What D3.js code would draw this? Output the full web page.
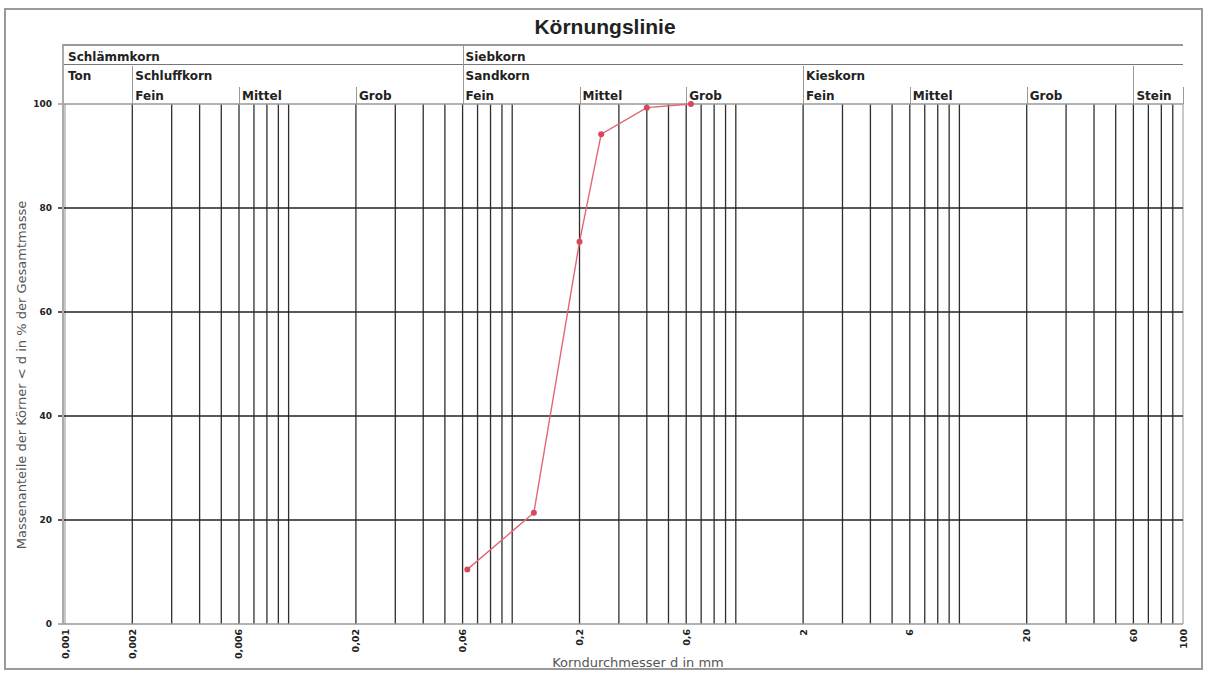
<!DOCTYPE html>
<html>
  <head>
    <meta charset="utf-8">
    <title>Körnungslinie</title>
    <script src="https://d3js.org/d3.v7.min.js"></script>
    <style>
      body { margin: 0; background: #fff; }
      text { font-family: "DejaVu Sans", sans-serif; fill: #222; }
      .grid { stroke: #2e2e2e; stroke-width: 1.3; }
      .hgrid { stroke: #222; stroke-width: 1.3; }
      .edge { stroke: #aaa; stroke-width: 1.5; shape-rendering: crispEdges; }
      .sep { stroke: #999; stroke-width: 1.5; shape-rendering: crispEdges; }
      .head { font-size: 12px; font-weight: bold; }
      .curve { fill: none; stroke: #e26673; stroke-width: 1.4; }
      .dot { fill: #d9485a; }
    </style>
  </head>
  <body>
    <div id="chart"></div>
    <script>

      var width = 1207,
        height = 673;

      // grain diameters (mm) and percent passing
      var diameters = [0.063, 0.125, 0.2, 0.25, 0.4, 0.63];
      var passing = [10.5, 21.4, 73.5, 94.2, 99.3, 100];

      var xTickValues = [0.001, 0.002, 0.006, 0.02, 0.06, 0.2, 0.6, 2, 6, 20, 60, 100];
      var xTickLabels = ["0,001", "0,002", "0,006", "0,02", "0,06", "0,2", "0,6", "2", "6", "20", "60", "100"];
      var yTickValues = [0, 20, 40, 60, 80, 100];

      // header rows: label + starting diameter
      var row1Labels = ["Schlämmkorn", "Siebkorn"];
      var row1Starts = [0.001, 0.06];
      var row2Labels = ["Ton", "Schluffkorn", "Sandkorn", "Kieskorn", ""];
      var row2Starts = [0.001, 0.002, 0.06, 2, 60];
      var row3Labels = ["Fein", "Mittel", "Grob", "Fein", "Mittel", "Grob", "Fein", "Mittel", "Grob", "Stein"];
      var row3Starts = [0.002, 0.006, 0.02, 0.06, 0.2, 0.6, 2, 6, 20, 60];

      var svg = d3.select("#chart")
        .append("svg")
          .attr("width", width)
          .attr("height", height);

      var x = d3.scaleLog()
        .domain([0.001, 100])
        .range([65, 1183]);

      var y = d3.scaleLinear()
        .domain([0, 100])
        .range([624, 104]);

      // outer frame
      svg.append("rect")
        .attr("x", 5).attr("y", 9)
        .attr("width", 1197).attr("height", 660)
        .attr("fill", "none")
        .attr("stroke", "#9a9a9a")
        .attr("stroke-width", 2);

      svg.append("text")
        .attr("x", 605).attr("y", 34)
        .attr("text-anchor", "middle")
        .style("font-family", "'Liberation Sans', Arial, sans-serif")
        .style("font-size", "21px")
        .style("font-weight", "bold")
        .text("Körnungslinie");

      // header lines
      svg.append("line").attr("class", "sep")
        .attr("x1", 62).attr("x2", x(100)).attr("y1", 45).attr("y2", 45)
        .style("stroke-width", 2);
      svg.append("line").attr("class", "sep")
        .attr("x1", 62).attr("x2", x(100)).attr("y1", 64).attr("y2", 64)
        .style("stroke", "#777").style("stroke-width", 1);

      // vertical grid (1..9 per decade)
      svg.append("g")
        .selectAll("line")
        .data(x.ticks())
        .enter().append("line")
          .attr("class", "grid")
          .attr("x1", (d) => x(d))
          .attr("x2", (d) => x(d))
          .attr("y1", y(100))
          .attr("y2", y(0))
          .style("stroke", (d) => (d === 0.001 || d === 100) ? "#aaa" : null);

      // horizontal grid
      svg.append("g")
        .selectAll("line")
        .data(yTickValues)
        .enter().append("line")
          .attr("class", "hgrid")
          .attr("x1", 58)
          .attr("x2", x(100))
          .attr("y1", (d) => y(d))
          .attr("y2", (d) => y(d))
          .style("stroke", (d) => (d === 0 || d === 100) ? "#999" : null);

      svg.append("line").attr("class", "edge")
        .attr("x1", 63).attr("x2", 63).attr("y1", 45).attr("y2", y(0));

      // header separators
      function seps(starts, top) {
        svg.append("g")
          .selectAll("line")
          .data(starts)
          .enter().append("line")
            .attr("class", "sep")
            .attr("x1", (d) => Math.round(x(d)) + 0.5)
            .attr("x2", (d) => Math.round(x(d)) + 0.5)
            .attr("y1", top)
            .attr("y2", y(100));
      }
      seps([0.06], 46);
      seps([0.002, 2, 60], 66);
      seps([0.006, 0.02, 0.2, 0.6, 6, 20, 100], 87);

      function headRow(labels, starts, ty) {
        svg.append("g")
          .selectAll("text")
          .data(labels)
          .enter().append("text")
            .attr("class", "head")
            .attr("x", (d, i) => x(starts[i]) + 3)
            .attr("y", ty)
            .text((d) => d);
      }
      headRow(row1Labels, row1Starts, 61);
      headRow(row2Labels, row2Starts, 80);
      headRow(row3Labels, row3Starts, 100);

      // x tick labels, rotated
      svg.append("g")
        .selectAll("text")
        .data(xTickValues)
        .enter().append("text")
          .attr("transform", (d) => "translate(" + (x(d) + 3.5) + ",629) rotate(-90)")
          .attr("text-anchor", "end")
          .style("font-size", "9.5px")
          .style("font-weight", "bold")
          .text((d, i) => xTickLabels[i]);

      // y tick labels
      svg.append("g")
        .selectAll("text")
        .data(yTickValues)
        .enter().append("text")
          .attr("x", 52)
          .attr("y", (d) => y(d) + 3)
          .attr("text-anchor", "end")
          .style("font-size", "9px")
          .style("font-weight", "bold")
          .text((d) => d);

      svg.append("text")
        .attr("x", 638).attr("y", 667)
        .attr("text-anchor", "middle")
        .style("font-size", "13px")
        .style("fill", "#555")
        .text("Korndurchmesser d in mm");

      svg.append("text")
        .attr("transform", "translate(26,375) rotate(-90)")
        .attr("text-anchor", "middle")
        .style("font-size", "13px")
        .style("fill", "#555")
        .text("Massenanteile der Körner < d in % der Gesamtmasse");

      // grading curve
      var pts = diameters.map((d, i) => [d, passing[i]]);
      var line = d3.line()
        .x((d) => x(d[0]))
        .y((d) => y(d[1]));

      svg.append("path")
        .datum(pts)
        .attr("class", "curve")
        .attr("d", line);

      svg.append("g")
        .selectAll("circle")
        .data(pts)
        .enter().append("circle")
          .attr("class", "dot")
          .attr("cx", (d) => x(d[0]))
          .attr("cy", (d) => y(d[1]))
          .attr("r", 3);

    </script>
  </body>
</html>
